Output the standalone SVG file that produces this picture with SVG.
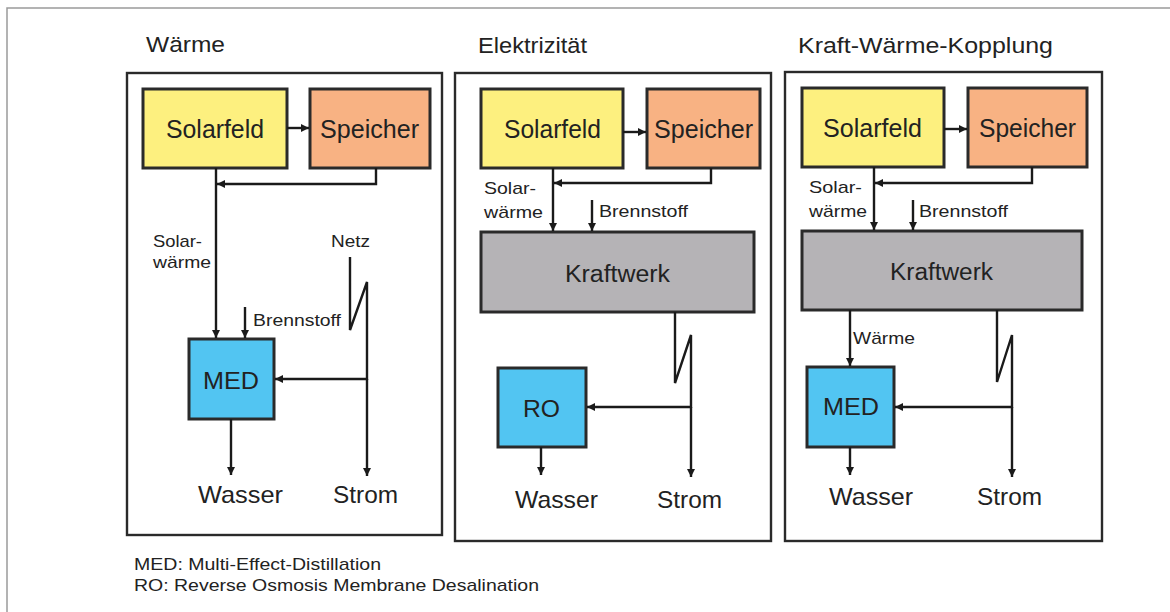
<svg xmlns="http://www.w3.org/2000/svg" width="1170" height="612" viewBox="0 0 1170 612">
<style>
text{font-family:"Liberation Sans",Arial,sans-serif;fill:#222}
.t{font-size:22px}
.b{font-size:25px}
.k{font-size:23px}
.o{font-size:24px}
.s{font-size:17px}
.f{font-size:17px}
.panel{fill:#fff;stroke:#2a2a2a;stroke-width:2.4}
.node{stroke:#2a2a2a;stroke-width:3}
.sol{fill:#FDF07F}
.sp{fill:#F8B283}
.kw{fill:#B5B3B6}
.de{fill:#52C5F2}
.c{fill:none;stroke:#1a1a1a;stroke-width:2.4}
.ca{fill:none;stroke:#1a1a1a;stroke-width:2.4;marker-end:url(#ah)}
</style>
<defs>
<marker id="ah" markerUnits="userSpaceOnUse" markerWidth="10" markerHeight="10" viewBox="0 0 10 10" refX="9" refY="5" orient="auto">
<path d="M1,1 L9,5 L1,9 Z" fill="#1a1a1a"/>
</marker>
</defs>
<rect width="1170" height="612" fill="#fff"/>
<path d="M7,612 V8 H1170" fill="none" stroke="#9a9a9a" stroke-width="1.5"/>

<g id="panel-waerme">
<rect class="panel" x="127" y="73" width="315" height="462"/>
<text class="t" x="146" y="52" textLength="79" lengthAdjust="spacingAndGlyphs">Wärme</text>
</g>
<g id="panel-elektrizitaet">
<rect class="panel" x="455" y="73" width="316" height="468"/>
<text class="t" x="478" y="53" textLength="109" lengthAdjust="spacingAndGlyphs">Elektrizität</text>
</g>
<g id="panel-kwk">
<rect class="panel" x="785" y="72" width="317" height="469"/>
<text class="t" x="798" y="53" textLength="255" lengthAdjust="spacingAndGlyphs">Kraft-Wärme-Kopplung</text>
</g>

<!-- Panel 1 nodes -->
<g id="p1-solarfeld"><rect class="node sol" x="143" y="89" width="144" height="79"/><text class="b" x="166" y="138" textLength="98" lengthAdjust="spacingAndGlyphs">Solarfeld</text></g>
<g id="p1-speicher"><rect class="node sp" x="310" y="89" width="120" height="79"/><text class="b" x="320" y="138" textLength="99" lengthAdjust="spacingAndGlyphs">Speicher</text></g>
<g id="p1-med"><rect class="node de" x="189" y="339" width="85" height="80"/><text class="k" x="203" y="389" textLength="56" lengthAdjust="spacingAndGlyphs">MED</text></g>
<g id="p1-wasser"><text class="o" x="198" y="503" textLength="85" lengthAdjust="spacingAndGlyphs">Wasser</text></g>
<g id="p1-strom"><text class="o" x="333" y="503" textLength="65" lengthAdjust="spacingAndGlyphs">Strom</text></g>

<!-- Panel 2 nodes -->
<g id="p2-solarfeld"><rect class="node sol" x="481" y="89" width="142" height="79"/><text class="b" x="504" y="138" textLength="97" lengthAdjust="spacingAndGlyphs">Solarfeld</text></g>
<g id="p2-speicher"><rect class="node sp" x="647" y="89" width="113" height="79"/><text class="b" x="654" y="138" textLength="99" lengthAdjust="spacingAndGlyphs">Speicher</text></g>
<g id="p2-kraftwerk"><rect class="node kw" x="481" y="232" width="273" height="80"/><text class="k" x="565" y="282" textLength="105" lengthAdjust="spacingAndGlyphs">Kraftwerk</text></g>
<g id="p2-ro"><rect class="node de" x="498" y="368" width="88" height="79"/><text class="k" x="523" y="417" textLength="37" lengthAdjust="spacingAndGlyphs">RO</text></g>
<g id="p2-wasser"><text class="o" x="515" y="508" textLength="83" lengthAdjust="spacingAndGlyphs">Wasser</text></g>
<g id="p2-strom"><text class="o" x="657" y="508" textLength="65" lengthAdjust="spacingAndGlyphs">Strom</text></g>

<!-- Panel 3 nodes -->
<g id="p3-solarfeld"><rect class="node sol" x="802" y="88" width="142" height="79"/><text class="b" x="823" y="137" textLength="99" lengthAdjust="spacingAndGlyphs">Solarfeld</text></g>
<g id="p3-speicher"><rect class="node sp" x="968" y="88" width="119" height="79"/><text class="b" x="979" y="137" textLength="97" lengthAdjust="spacingAndGlyphs">Speicher</text></g>
<g id="p3-kraftwerk"><rect class="node kw" x="802" y="231" width="280" height="79"/><text class="k" x="890" y="280" textLength="103" lengthAdjust="spacingAndGlyphs">Kraftwerk</text></g>
<g id="p3-med"><rect class="node de" x="807" y="367" width="87" height="80"/><text class="k" x="823" y="415" textLength="56" lengthAdjust="spacingAndGlyphs">MED</text></g>
<g id="p3-wasser"><text class="o" x="829" y="505" textLength="84" lengthAdjust="spacingAndGlyphs">Wasser</text></g>
<g id="p3-strom"><text class="o" x="977" y="505" textLength="65" lengthAdjust="spacingAndGlyphs">Strom</text></g>

<g id="connectors">
<!-- Panel 1 -->
<path class="ca" d="M287,128 H309"/>
<path class="ca" d="M376,168 V184 H217"/>
<path class="ca" d="M216,168 V338"/>
<path class="ca" d="M245,307 V338"/>
<path class="c" d="M350,257 V330 L367,282 V380"/>
<path class="ca" d="M367,379 V476"/>
<path class="ca" d="M367,379 H275"/>
<path class="ca" d="M231,419 V475"/>
<!-- Panel 2 -->
<path class="ca" d="M623,132 H646"/>
<path class="ca" d="M711,168 V183 H554"/>
<path class="ca" d="M553,168 V231"/>
<path class="ca" d="M592,200 V231"/>
<path class="c" d="M675,312 V383 L691,335 V408"/>
<path class="ca" d="M691,407 V477"/>
<path class="ca" d="M691,407 H587"/>
<path class="ca" d="M541,447 V475"/>
<!-- Panel 3 -->
<path class="ca" d="M944,129 H967"/>
<path class="ca" d="M1032,167 V183 H875"/>
<path class="ca" d="M874,167 V230"/>
<path class="ca" d="M913,200 V230"/>
<path class="ca" d="M850,310 V366"/>
<path class="c" d="M997,310 V382 L1012,335 V408"/>
<path class="ca" d="M1012,407 V477"/>
<path class="ca" d="M1012,407 H895"/>
<path class="ca" d="M850,447 V475"/>
</g>

<g id="labels">
<text class="s" x="153" y="247" textLength="49" lengthAdjust="spacingAndGlyphs">Solar-</text>
<text class="s" x="153" y="268" textLength="58" lengthAdjust="spacingAndGlyphs">wärme</text>
<text class="s" x="331" y="247" textLength="39" lengthAdjust="spacingAndGlyphs">Netz</text>
<text class="s" x="253" y="326" textLength="88" lengthAdjust="spacingAndGlyphs">Brennstoff</text>
<text class="s" x="484" y="194" textLength="52" lengthAdjust="spacingAndGlyphs">Solar-</text>
<text class="s" x="484" y="218" textLength="59" lengthAdjust="spacingAndGlyphs">wärme</text>
<text class="s" x="599" y="217" textLength="89" lengthAdjust="spacingAndGlyphs">Brennstoff</text>
<text class="s" x="809" y="193" textLength="53" lengthAdjust="spacingAndGlyphs">Solar-</text>
<text class="s" x="809" y="217" textLength="58" lengthAdjust="spacingAndGlyphs">wärme</text>
<text class="s" x="919" y="217" textLength="89" lengthAdjust="spacingAndGlyphs">Brennstoff</text>
<text class="s" x="853" y="344" textLength="62" lengthAdjust="spacingAndGlyphs">Wärme</text>
</g>

<g id="legend">
<text class="f" x="134" y="570" textLength="247" lengthAdjust="spacingAndGlyphs">MED: Multi-Effect-Distillation</text>
<text class="f" x="134" y="591" textLength="405" lengthAdjust="spacingAndGlyphs">RO: Reverse Osmosis Membrane Desalination</text>
</g>
</svg>
